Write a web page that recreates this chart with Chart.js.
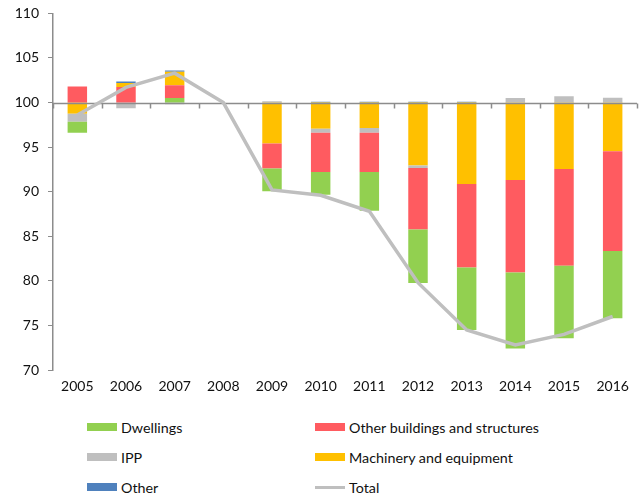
<!DOCTYPE html>
<html>
<head>
<meta charset="utf-8">
<script src="https://cdn.jsdelivr.net/npm/chart.js@4"></script>
<style>
  body { margin: 0; background: white; font-family: Lato, sans-serif; }
  #wrap { position: relative; width: 643px; height: 494px; overflow: hidden; }
  #chart { position: absolute; left: 0; top: -4px; }
  #legend { position: absolute; left: 87px; top: 417px; display: grid; grid-template-columns: 228px 300px; row-gap: 10px; font-size: 14.3px; color: #111; }
  .item { display: flex; align-items: center; height: 20px; }
  .sw { width: 30px; height: 8px; margin-right: 4px; }
  .ln { width: 30px; height: 3px; margin-right: 4px; }
</style>
</head>
<body>
<div id="wrap">
  <canvas id="chart" width="643" height="404"></canvas>
  <div id="legend"></div>
</div>
<script>
const years = ["2005", "2006", "2007", "2008", "2009", "2010", "2011", "2012", "2013", "2014", "2015", "2016"];
const base = 100;

// contributions in index points, relative to 2008 = 100
const dwellings = [-1.25, 0, 0.5, 0, -2.55, -2.55, -4.35, -6.0, -7.0, -8.55, -8.15, -7.55];
const otherBuildings = [1.8, 1.75, 1.45, 0, -2.8, -4.4, -4.4, -6.9, -9.35, -10.35, -10.85, -11.2];
const ipp = [-0.9, -0.65, -0.2, 0, 0.15, -0.45, -0.55, -0.3, 0, 0.5, 0.7, 0.55];
const machinery = [-1.25, 0.45, 1.5, 0, -4.6, -2.95, -2.85, -7.05, -9.15, -8.7, -7.45, -5.45];
const other = [0, 0.15, 0.15, 0, 0, 0.08, 0.08, 0.08, 0.08, 0, 0, 0];
const total = [98.6, 101.7, 103.3, 100, 90.2, 89.6, 87.8, 79.8, 74.5, 72.8, 74.0, 76.0];

const series = {
    dw: { label: "Dwellings", data: dwellings, color: "#92D050" },
    ob: { label: "Other buildings and structures", data: otherBuildings, color: "#FF5B60" },
    ipp: { label: "IPP", data: ipp, color: "#BFBFBF" },
    mach: { label: "Machinery and equipment", data: machinery, color: "#FFC000" },
    other: { label: "Other", data: other, color: "#4F81BD" }
};
const posOrder = ["dw", "ob", "mach", "ipp", "other"];
const negOrder = ["mach", "ipp", "ob", "dw", "other"];

// floating bar ranges stacked away from 100
const ranges = {};
Object.keys(series).forEach(k => ranges[k] = years.map(() => null));
years.forEach((_, i) => {
    let top = base;
    posOrder.forEach(k => {
        const v = series[k].data[i];
        if (v > 0) { ranges[k][i] = [top, top + v]; top += v; }
    });
    let bottom = base;
    negOrder.forEach(k => {
        const v = series[k].data[i];
        if (v < 0) { ranges[k][i] = [bottom + v, bottom]; bottom += v; }
    });
});

const axisColor = "#8C8C8C";

const baseLine = {
    id: "baseLine",
    beforeDatasetDraw(chart, args) {
        if (args.meta.type !== "line") return;
        const { ctx, chartArea, scales: { x, y } } = chart;
        const py = Math.round(y.getPixelForValue(base)) + 0.5;
        ctx.save();
        ctx.strokeStyle = axisColor;
        ctx.lineWidth = 1.5;
        ctx.beginPath();
        ctx.moveTo(chartArea.left, py);
        ctx.lineTo(chartArea.right, py);
        for (let i = 0; i <= years.length; i++) {
            const px = Math.round(x.getPixelForValue(i - 0.5)) + 0.5;
            ctx.moveTo(px, py);
            ctx.lineTo(px, py + 5);
        }
        ctx.stroke();
        ctx.restore();
    }
};

const barSets = Object.keys(series).map(k => ({
    type: "bar",
    label: series[k].label,
    data: ranges[k],
    backgroundColor: series[k].color,
    grouped: false,
    barPercentage: 0.4,
    categoryPercentage: 1,
    order: 1
}));

const chart = new Chart(document.getElementById("chart"), {
    data: {
        labels: years,
        datasets: [
            {
                type: "line",
                label: "Total",
                data: total,
                borderColor: "#BFBFBF",
                borderWidth: 3.5,
                pointRadius: 0,
                tension: 0,
                order: 0
            },
            ...barSets
        ]
    },
    options: {
        responsive: false,
        animation: false,
        layout: { padding: { top: 3, right: 6, left: 0, bottom: 0 } },
        plugins: { legend: { display: false }, tooltip: { enabled: false } },
        scales: {
            x: {
                grid: { display: false },
                border: { display: false },
                ticks: { color: "#111", font: { family: "Lato", size: 14 }, padding: 0 },
                afterFit(scale) { scale.height = 30; }
            },
            y: {
                min: 70,
                max: 110,
                ticks: { stepSize: 5, color: "#111", font: { family: "Lato", size: 14 }, padding: 9 },
                grid: { drawOnChartArea: false, color: axisColor, tickLength: 5 },
                border: { color: axisColor, width: 1.5 },
                afterFit(scale) { scale.width = 53; }
            }
        }
    },
    plugins: [baseLine]
});

// legend in two columns, row by row
const legendItems = [
    { label: series.dw.label, color: series.dw.color },
    { label: series.ob.label, color: series.ob.color },
    { label: series.ipp.label, color: series.ipp.color },
    { label: series.mach.label, color: series.mach.color },
    { label: series.other.label, color: series.other.color },
    { label: "Total", color: "#BFBFBF", line: true }
];
const legend = document.getElementById("legend");
legendItems.forEach(it => {
    const div = document.createElement("div");
    div.className = "item";
    const sw = document.createElement("span");
    sw.className = it.line ? "ln" : "sw";
    sw.style.background = it.color;
    div.appendChild(sw);
    div.appendChild(document.createTextNode(it.label));
    legend.appendChild(div);
});
</script>
</body>
</html>
